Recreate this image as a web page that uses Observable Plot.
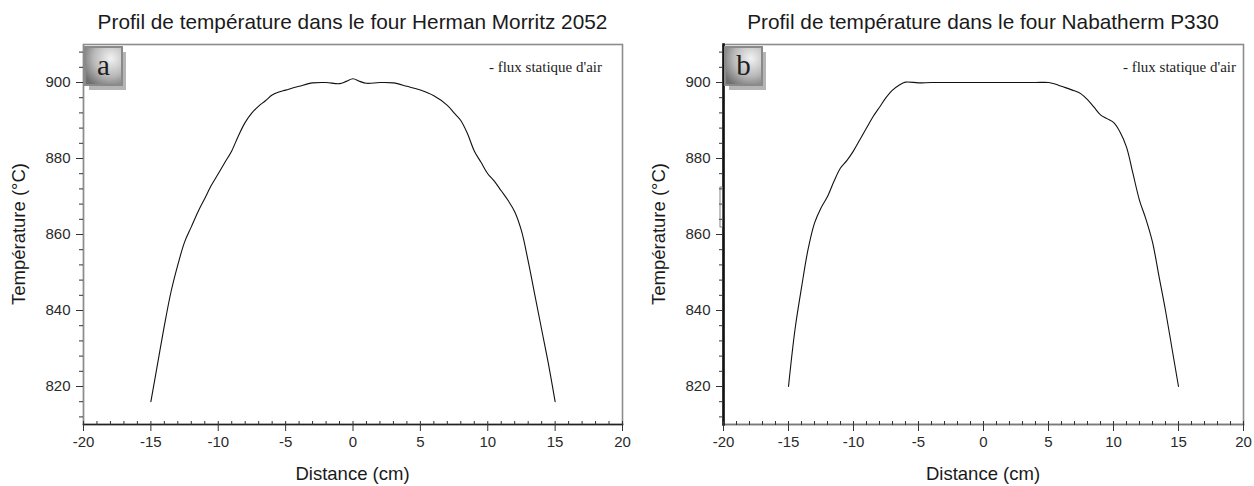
<!DOCTYPE html>
<html><head><meta charset="utf-8">
<script src="https://cdn.jsdelivr.net/npm/d3@7"></script>
<script src="https://cdn.jsdelivr.net/npm/@observablehq/plot@0.6"></script>
<style>
body{margin:0;background:#fff;font-family:Arial,"Liberation Sans",sans-serif;}
#wrap{position:relative;width:1254px;height:486px;overflow:hidden;background:#fff}
.panel{position:absolute;top:0}
.title{position:absolute;top:10px;font-size:20.8px;color:#1a1a1a;white-space:nowrap;transform:translateX(-50%)}
.xlab{position:absolute;top:463px;font-size:18.5px;color:#1a1a1a;white-space:nowrap;transform:translateX(-50%)}
.ylab{position:absolute;top:234px;font-size:18.5px;color:#1a1a1a;white-space:nowrap;transform:translate(-50%,-50%) rotate(-90deg)}
</style></head><body><div id="wrap"></div>
<script>
// ---- data ----
const titleA = "Profil de température dans le four Herman Morritz 2052";
const titleB = "Profil de température dans le four Nabatherm P330";
const legendText = "- flux statique d'air";
const xLabel = "Distance (cm)";
const yLabel = "Température (°C)";
const xTicks = [-20, -15, -10, -5, 0, 5, 10, 15, 20];
const xMinorTicks = d3.range(-20, 21, 1);
const yTicks = [820, 840, 860, 880, 900];
const yMinorTicks = d3.range(812, 910, 4);
const xDomain = [-20, 20];
const yDomain = [810, 910];

const distA = [-15,-14.5,-14,-13.5,-13,-12.5,-12,-11.5,-11,-10.5,-10,-9.5,-9,-8.5,-8,-7.5,-7,-6.5,-6,-5.5,-5,-4,-3,-2,-1,-0.5,0,0.5,1,2,3,4,5,6,7,7.5,8,8.5,9,9.5,10,10.5,11,11.5,12,12.5,13,13.5,14,14.5,15];
const tempA = [816,826,836,845,852,858,862,866,869.5,873,876,879,882,886,889.5,892,893.8,895.2,896.7,897.5,898,899,899.9,900,899.7,900.3,901,900.3,899.8,900,899.9,899,898,896.5,894,892,890,886.5,882,879,876,874,871.5,869,866,861,853,844,835,826,816];

const distB = [-15,-14.5,-14,-13.5,-13,-12.5,-12,-11.5,-11,-10.5,-10,-9.5,-9,-8.5,-8,-7.5,-7,-6.5,-6,-5,-4,-2,0,2,4,5,5.5,6,7,7.5,8,8.5,9,9.5,10,10.5,11,11.5,12,12.5,13,13.5,14,14.5,15];
const tempB = [820,835,846,856,863,867,870,874,877.5,879.5,882,885,888,891,893.5,896,898,899.3,900.1,899.9,900,900,900,900,900,900,899.6,899,897.8,897,895.5,893.5,891.5,890.5,889.5,887,883,876,869,864,858,849,840,830,820];

// ---- drawing ----
const wrap = document.getElementById("wrap");
const fmt = d => String(d);

function panel({dist, temp, left, width, marginRight, title, letter, legend, legendOffset, bottomStroke, bottomWidth, leftStroke, leftWidth, gid, artifact}) {
  const data = dist.map((d, i) => ({d, t: temp[i]}));
  const plot = Plot.plot({
    width, height: 486,
    marginLeft: 83, marginRight, marginTop: 44, marginBottom: 62,
    style: {fontFamily: "Arial, 'Liberation Sans', sans-serif", fontSize: "15px", color: "#2a2a2a", background: "transparent", overflow: "visible"},
    x: {domain: xDomain},
    y: {domain: yDomain},
    marks: [
      Plot.frame({stroke: "#8c8c8c", strokeWidth: 1.6}),
      Plot.frame({anchor: "bottom", stroke: bottomStroke, strokeWidth: bottomWidth}),
      Plot.frame({anchor: "left", stroke: leftStroke, strokeWidth: leftWidth}),
      Plot.axisX(xTicks, {tickSize: 7, tickPadding: 5, tickFormat: fmt, label: null, stroke: "#333", fontSize: 15}),
      Plot.axisX(xMinorTicks, {anchor: "top", frameAnchor: "bottom", tickSize: 4, tickFormat: () => "", label: null, stroke: "#333"}),
      Plot.axisY(yTicks, {tickSize: 7, tickPadding: 6, tickFormat: fmt, label: null, stroke: "#333", fontSize: 15}),
      Plot.axisY(yMinorTicks, {tickSize: 4, tickFormat: () => "", label: null, stroke: "#333"}),
      Plot.line(data, {x: "d", y: "t", curve: "catmull-rom", stroke: "#111", strokeWidth: 1.1})
    ]
  });
  plot.classList.add("panel");
  plot.style.left = left + "px";
  wrap.appendChild(plot);

  const svg = d3.select(plot);
  const defs = svg.append("defs");
  const g = defs.append("radialGradient").attr("id", gid).attr("cx", "70%").attr("cy", "30%").attr("r", "85%");
  g.append("stop").attr("offset", "0%").attr("stop-color", "#f2f2f2");
  g.append("stop").attr("offset", "55%").attr("stop-color", "#b9b9b9");
  g.append("stop").attr("offset", "100%").attr("stop-color", "#6e6e6e");
  const bx = 83 + 2, by = 44 + 3, bw = 37, bh = 38;
  svg.append("rect").attr("x", bx + 4).attr("y", by + 5).attr("width", bw).attr("height", bh).attr("fill", "#b5b5b5");
  svg.append("rect").attr("x", bx).attr("y", by).attr("width", bw).attr("height", bh).attr("fill", `url(#${gid})`).attr("stroke", "#8a8a8a").attr("stroke-width", 2);
  svg.append("text").attr("x", bx + bw / 2).attr("y", by + bh / 2 + 9).attr("text-anchor", "middle")
    .attr("font-family", "'Liberation Serif', 'DejaVu Serif', serif").attr("font-size", 29).attr("fill", "#1e1e1e").text(letter);
  svg.append("text").attr("x", width - marginRight - legendOffset).attr("y", 72).attr("text-anchor", "end")
    .attr("font-family", "'Liberation Serif', 'DejaVu Serif', serif").attr("font-size", 15).attr("fill", "#222").text(legend);
  if (artifact) {
    svg.append("rect").attr("x", 80).attr("y", 187).attr("width", 2.5).attr("height", 40)
      .attr("fill", "none").attr("stroke", "#666").attr("stroke-width", 0.8);
  }

  const cx = left + 83 + (width - 83 - marginRight) / 2;
  const t = document.createElement("div"); t.className = "title"; t.textContent = title; t.style.left = cx + "px"; wrap.appendChild(t);
  const xl = document.createElement("div"); xl.className = "xlab"; xl.textContent = xLabel; xl.style.left = cx + "px"; wrap.appendChild(xl);
  const yl = document.createElement("div"); yl.className = "ylab"; yl.textContent = yLabel; yl.style.left = (left + 19) + "px"; wrap.appendChild(yl);
}

panel({dist: distA, temp: tempA, left: 0, width: 640, marginRight: 18, title: titleA, letter: "a", legend: legendText, legendOffset: 20,
  bottomStroke: "#222", bottomWidth: 1.6, leftStroke: "#8c8c8c", leftWidth: 1.2, gid: "ga", artifact: false});
panel({dist: distB, temp: tempB, left: 640, width: 614, marginRight: 11, title: titleB, letter: "b", legend: legendText, legendOffset: 7,
  bottomStroke: "#7a7a7a", bottomWidth: 1.6, leftStroke: "#111", leftWidth: 2.6, gid: "gb", artifact: true});
</script>
</body></html>
